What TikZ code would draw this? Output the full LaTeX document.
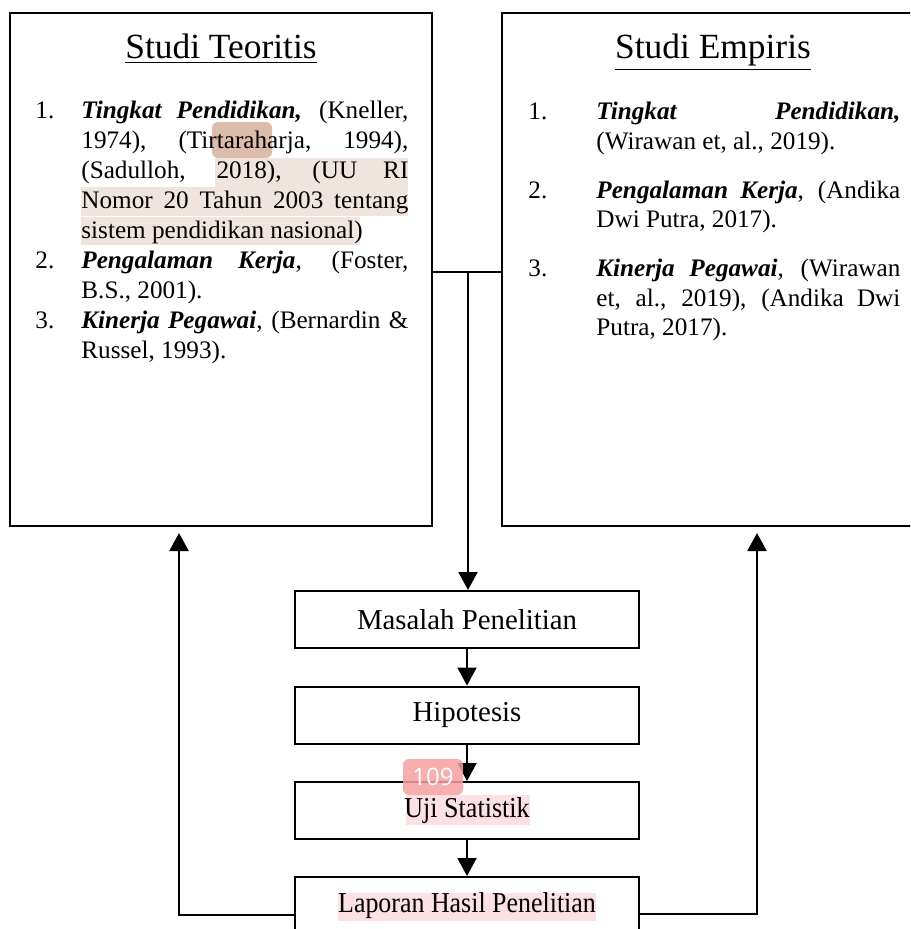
\documentclass[tikz,border=0pt]{standalone}
\usepackage{fontspec}
\setmainfont{Liberation Serif}
\newfontfamily\badgefont{Open Sans}
\usetikzlibrary{arrows.meta}
\definecolor{hlbeige}{RGB}{239,229,222}
\definecolor{hlpink}{RGB}{252,224,228}
\definecolor{badgered}{RGB}{245,160,160}
\definecolor{badgebrown}{RGB}{220,188,170}
\newcommand{\itemhang}[2]{\hangindent=#1\hangafter=1\noindent\makebox[#1][l]{#2}}
\newcommand{\steplabel}[2]{\raisebox{-1.2pt}{\scalebox{#1}[1]{#2}}}
\begin{document}
\begin{tikzpicture}[x=0.5pt,y=-0.5pt,
  conn/.style={line width=1pt, draw=black},
  arr/.style={line width=1pt, draw=black, -{Triangle[width=9.5pt,length=9pt]}},
  bigbox/.style={draw=black, line width=1pt, inner sep=0pt},
  stepbox/.style={draw=black, line width=1pt, minimum width=172pt, minimum height=28.5pt, inner sep=0pt, font=\fontsize{14.4}{17}\selectfont},
  titletext/.style={anchor=base, inner sep=0pt, font=\fontsize{17.7}{21}\selectfont},
  listtext/.style={anchor=base west, inner sep=0pt, font=\fontsize{12.6}{14.95}\selectfont},
  hlb/.style={fill=hlbeige, draw=none},
  hlp/.style={fill=hlpink, draw=none},
  badge/.style={rounded corners=3pt, inner sep=0pt, text=white, font=\badgefont\fontsize{12}{14}\selectfont}
]
\useasboundingbox (0,0) rectangle (910,929);
\clip (0,0) rectangle (910,929);

% highlights (behind text)
\fill[hlb] (215,158) rectangle (408,187);
\fill[hlb] (81,187) rectangle (408,216);
\fill[hlb] (81,217) rectangle (360,245);
\fill[hlp] (406,795) rectangle (530,825);
\fill[hlp] (338,893) rectangle (596,921);

% page badge behind the left text
\fill[badgebrown, rounded corners=3pt] (212,122) rectangle (272,158);

% main boxes
\node[bigbox, minimum width=211pt, minimum height=256.5pt] (teori) at (221,269.5) {};
\node[bigbox, minimum width=210pt, minimum height=256.5pt] (empiris) at (712,269.5) {};

\node[titletext] (tteori) at (221,59) {\underline{Studi Teoritis}};
\node[titletext] (tempiris) at (713,59) {\underline{Studi Empiris}};

\node[listtext] (lteori) at (35,119) {\parbox[t]{186.5pt}{%
\itemhang{23pt}{1.}\textbf{\textit{Tingkat Pendidikan,}} (Kneller,\linebreak 1974), (Tirtaraharja, 1994),\linebreak (Sadulloh, 2018), (UU RI\linebreak Nomor 20 Tahun 2003 tentang\linebreak sistem pendidikan nasional)\par
\itemhang{23pt}{2.}\textbf{\textit{Pengalaman Kerja}}, (Foster,\linebreak B.S., 2001).\par
\itemhang{23pt}{3.}\textbf{\textit{Kinerja Pegawai}}, (Bernardin \&\linebreak Russel, 1993).\par}};

\node[listtext] (lempiris) at (528,120) {\parbox[t]{186pt}{\fontsize{12.6}{14.8}\selectfont\parskip=9.6pt
\itemhang{34pt}{1.}\textbf{\textit{Tingkat Pendidikan,}}\linebreak (Wirawan et, al., 2019).\par
\itemhang{34pt}{2.}\textbf{\textit{Pengalaman Kerja}}, (Andika\linebreak Dwi Putra, 2017).\par
\itemhang{34pt}{3.}\textbf{\textit{Kinerja Pegawai}}, (Wirawan\linebreak et, al., 2019), (Andika Dwi\linebreak Putra, 2017).\par}};

% step boxes
\node[stepbox] (masalah) at (467,619.5) {\steplabel{1}{Masalah Penelitian}};
\node[stepbox] (hipo) at (467,715) {\steplabel{1}{Hipotesis}};
\node[stepbox] (uji) at (467,810.5) {\steplabel{0.905}{Uji Statistik}};
\node[stepbox] (laporan) at (467,905.5) {\steplabel{0.9}{Laporan Hasil Penelitian}};

% connectors
\coordinate (junc) at (468,272);
\coordinate (lfb) at (179,915);
\coordinate (rfb) at (757,914);
\draw[conn] (teori.east |- junc) -- (empiris.west |- junc);
\draw[arr] (junc) -- (junc |- masalah.north);
\draw[arr] (masalah.south) -- (hipo.north);
\draw[arr] (hipo.south) -- (uji.north);
\draw[arr] (uji.south) -- (laporan.north);
\draw[arr, shorten >=3pt] (laporan.west |- lfb) -| (teori.south -| lfb);
\draw[arr, shorten >=3pt] (laporan.east |- rfb) -| (empiris.south -| rfb);

% page badge
\node[badge, fill=badgered, fill opacity=0.85, text opacity=1, minimum width=30pt, minimum height=18pt] (b109) at (433,777) {109};
\end{tikzpicture}
\end{document}
